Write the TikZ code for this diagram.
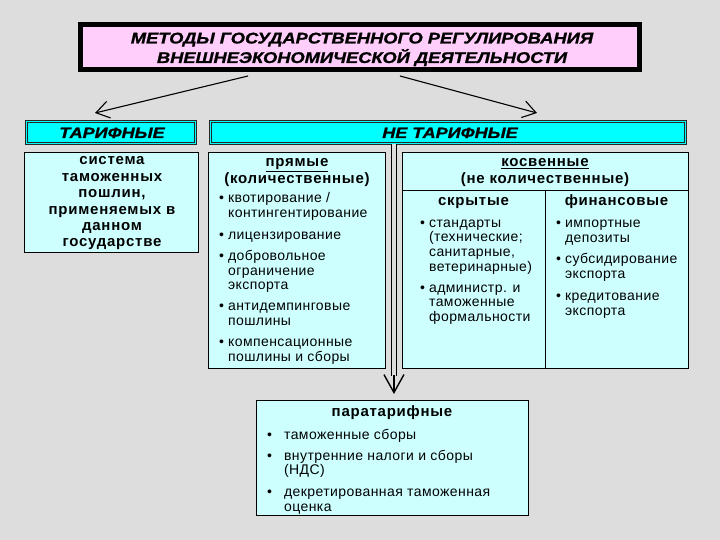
\documentclass[tikz,border=0pt]{standalone}
\usepackage{fontspec}
\setmainfont{Liberation Sans}
\usetikzlibrary{arrows.meta}
\definecolor{bg}{RGB}{221,221,221}
\definecolor{pinkbox}{RGB}{255,206,250}
\definecolor{cyanhead}{RGB}{0,255,255}
\definecolor{cyanbody}{RGB}{206,255,255}
\newcommand\blist[1]{\begin{tabular}[t]{@{}l@{\hspace{4pt}}l@{}}#1\end{tabular}}
\newcommand\plist[1]{\begin{tabular}[t]{@{}l@{\hspace{12pt}}l@{}}#1\end{tabular}}
\newcommand\ctab[1]{\begin{tabular}[t]{@{}c@{}}#1\end{tabular}}
\tikzset{
  titlebox/.style={draw=black, line width=5pt, fill=pinkbox, inner sep=0pt},
  head/.style={draw=black!85, double=cyanhead, double distance=1.3pt, line width=0.7pt, fill=cyanhead, inner sep=0pt},
  frame/.style={draw=black, line width=0.9pt, fill=cyanbody, inner sep=0pt, anchor=north west},
  ttl/.style={anchor=base, inner sep=0pt, font=\fontsize{15.5}{18}\selectfont\bfseries\itshape\addfontfeature{FakeBold=1}},
  htxt/.style={anchor=base, inner sep=0pt, font=\fontsize{15}{16}\selectfont\bfseries\itshape\addfontfeature{FakeBold=1}},
  bt/.style={anchor=base, inner sep=0pt, font=\fontsize{15}{16.4}\selectfont\bfseries\addfontfeature{LetterSpace=5}},
  lt/.style={anchor=base west, inner sep=0pt, font=\fontsize{14}{14.7}\selectfont\addfontfeature{LetterSpace=3}},
  arr/.style={line width=1.1pt, -{Straight Barb[length=13pt,width=17pt]}},
  dbl/.style={line width=1.2pt, double=bg, double distance=3.6pt},
  vtip/.style={line width=1.4pt, -{Straight Barb[length=18pt,width=20pt]}, shorten >=6pt},
}
\begin{document}
\begin{tikzpicture}[x=1pt,y=-1pt]
\fill[bg] (0,0) rectangle (720,540);
\useasboundingbox (0,0) rectangle (720,540);

% title
\node[titlebox, minimum width=559pt, minimum height=45pt] (title) at (360,47) {};
\node[ttl] (ttext) at (362,43.5) {\scalebox{1.18}[1]{\ctab{МЕТОДЫ ГОСУДАРСТВЕННОГО РЕГУЛИРОВАНИЯ\\ВНЕШНЕЭКОНОМИЧЕСКОЙ ДЕЯТЕЛЬНОСТИ}}};

% headers
\node[head, minimum width=169pt, minimum height=22pt] (tarhead) at (111,132.5) {};
\node[head, minimum width=475pt, minimum height=22pt] (nthead) at (448,132.5) {};
\node[htxt] (tartxt) at (112,138) {\scalebox{1.2}[1]{ТАРИФНЫЕ}};
\node[htxt] (nttxt) at (450,138) {\scalebox{1.2}[1]{НЕ ТАРИФНЫЕ}};

% body boxes
\node[frame, minimum width=174pt, minimum height=100pt] (tarbody) at (24,152) {};
\node[frame, minimum width=177pt, minimum height=216pt] (pr) at (208,152) {};
\node[frame, minimum width=286pt, minimum height=216pt] (kos) at (402,152) {};
\node[frame, minimum width=143pt, minimum height=178pt] (hid) at (402,190) {};
\node[frame, minimum width=143pt, minimum height=178pt] (fin) at (545,190) {};
\node[frame, minimum width=272pt, minimum height=115pt] (para) at (256,400) {};

% texts
\node[bt] (tartext) at (112,165) {\ctab{система\\таможенных\\пошлин,\\применяемых в\\данном\\государстве}};
\node[bt] (prhead) at (297,167) {\ctab{\underline{прямые}\\[0.6pt](количественные)}};
\node[bt] (koshead) at (545,167) {\ctab{\underline{косвенные}\\[0.6pt](не количественные)}};
\node[bt] (hidhead) at (473.5,206) {скрытые};
\node[bt] (finhead) at (616.5,206) {финансовые};
\node[bt] (parahead) at (392,416) {паратарифные};

\node[lt] (prlist) at (219,203) {\blist{•&квотирование /\\&контингентирование\\[6.8pt]
•&лицензирование\\[6.5pt]
•&добровольное\\&ограничение\\&экспорта\\[6pt]
•&антидемпинговые\\&пошлины\\[6.5pt]
•&компенсационные\\&пошлины и сборы}};

\node[lt] (hidlist) at (420,227) {\blist{•&стандарты\\&(технические;\\&санитарные,\\&ветеринарные)\\[6.5pt]
•&администр. и\\&таможенные\\&формальности}};

\node[lt] (finlist) at (556,227.5) {\blist{•&импортные\\&депозиты\\[6.5pt]
•&субсидирование\\&экспорта\\[8pt]
•&кредитование\\&экспорта}};

\node[lt] (paralist) at (267,439) {\plist{•&таможенные сборы\\[6.5pt]
•&внутренние налоги и сборы\\&(НДС)\\[7pt]
•&декретированная таможенная\\&оценка}};

% connectors
\coordinate (la) at (95,113);
\coordinate (ra) at (537,113);
\draw[arr] ([xshift=-112pt,yshift=-4pt]title.south) -- (la);
\draw[arr] ([xshift=40pt,yshift=-4pt]title.south) -- (ra);

\coordinate (vtop) at ([xshift=1.5pt]para.north |- nthead.south);
\coordinate (vend) at ([xshift=1.5pt]para.north);
\draw[dbl] (vtop) -- ([yshift=24pt]vend);
\draw[vtip] ([yshift=25pt]vend) -- (vend);
\end{tikzpicture}
\end{document}
